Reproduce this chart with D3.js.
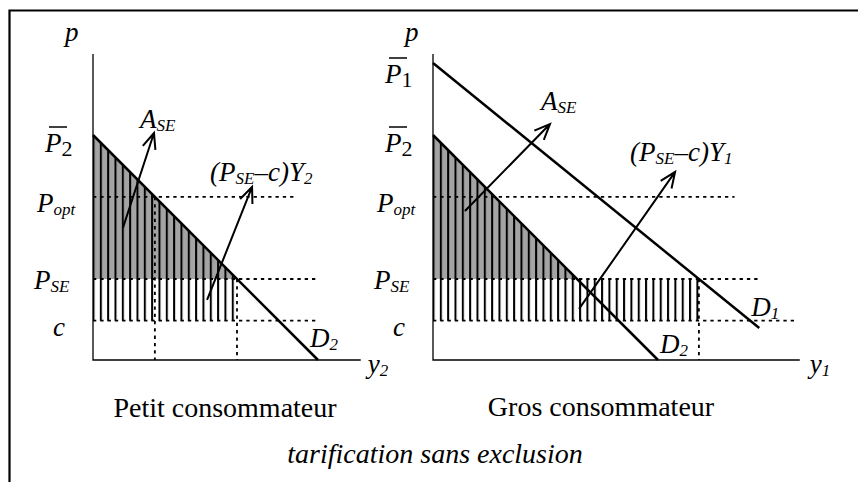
<!DOCTYPE html>
<html>
<head>
<meta charset="utf-8">
<script src="https://cdn.jsdelivr.net/npm/d3@7"></script>
<style>
  body { margin: 0; background: #fff; }
  text { font-family: "Liberation Serif", "Times New Roman", serif; font-size: 27px; fill: #000; }
</style>
</head>
<body>
<svg id="chart" width="858" height="482"></svg>
<script>
// Price levels (same units on both panels)
const levelKeys = ["pbar2", "popt", "pse", "c"];
const levelPrices = [10, 7.25, 3.6, 1.75];
const pbar1 = 13.2;

// Demand curves: D2 hits the quantity axis at 10, D1 at 16.25 (drawn up to 14.5)
const d2Choke = 10;
const d1Choke = 16.25;
const d1DrawTo = 14.5;

// Axis extents
const pAxisTop = 13.6;
const qAxisLeft = 11.9;
const qAxisRight = 16.3;

// Where the dotted price lines stop (popt, pse, c)
const dottedEndsLeft = [9.05, 10, 10];
const dottedEndsRight = [13.4, 14.5, 16.2];

// Annotation arrows [q0, p0, q1, p1]
const arrowsLeft = [[1.33, 5.87, 2.71, 10.09], [5.07, 2.67, 7.07, 7.69]];
const arrowsRight = [[1.42, 6.62, 5.2, 10.49], [6.49, 2.27, 10.76, 8.36]];

// Texts
const panelTitles = ["Petit consommateur", "Gros consommateur"];
const figureTitle = "tarification sans exclusion";

const svg = d3.select("#chart");
const gray = "#a4a4a4";

const pbar2 = levelPrices[0], popt = levelPrices[1], pse = levelPrices[2], cost = levelPrices[3];
const qOpt2 = d2Choke * (1 - popt / pbar2);
const qSE2 = d2Choke * (1 - pse / pbar2);
const qSE1 = d1Choke * (1 - pse / pbar1);

const yScale = d3.scaleLinear().domain([0, 10]).range([360, 135]);
const xLeft = d3.scaleLinear().domain([0, 10]).range([93, 318]);
const xRight = d3.scaleLinear().domain([0, 10]).range([433, 658]);

// frame (top and left only)
svg.append("path")
  .attr("d", "M9.5,482V10.5H858")
  .attr("fill", "none")
  .attr("stroke", "#000")
  .attr("stroke-width", 2.2);

const defs = svg.append("defs");
function stripes(id, x0) {
  const p = defs.append("pattern")
    .attr("id", id)
    .attr("patternUnits", "userSpaceOnUse")
    .attr("x", x0 - 0.5)
    .attr("y", 0)
    .attr("width", 7.33)
    .attr("height", 10);
  p.append("rect").attr("x", 0).attr("y", 0).attr("width", 2).attr("height", 10).attr("fill", "#000");
}
stripes("hatchL", xLeft(0));
stripes("hatchR", xRight(0));

// math-like label: parts = [{t, sub, up}]
function mathText(g, x, y, parts, italic = true) {
  const t = g.append("text").attr("x", x).attr("y", y)
    .style("font-style", italic ? "italic" : "normal");
  let down = 0;
  parts.forEach(part => {
    const s = t.append("tspan").text(part.t);
    if (part.sub) {
      const shift = part.up ? 4 : 3;
      s.attr("dy", shift - down).style("font-size", part.up ? "22px" : "17px");
      down = shift;
      if (part.up) s.style("font-style", "normal");
    } else {
      s.attr("dy", -down);
      down = 0;
    }
  });
  return t;
}

function pbarLabel(g, x, y, digit) {
  mathText(g, x, y, [{ t: "P" }, { t: digit, sub: true, up: true }]);
  g.append("line")
    .attr("x1", x + 4).attr("x2", x + 22)
    .attr("y1", y - 25).attr("y2", y - 25)
    .attr("stroke", "#000").attr("stroke-width", 1.5);
}

function arrow(g, xs, a) {
  const x1 = xs(a[0]), y1 = yScale(a[1]), x2 = xs(a[2]), y2 = yScale(a[3]);
  const ang = Math.atan2(y2 - y1, x2 - x1);
  const len = 17, spread = 0.4;
  const hx1 = x2 - len * Math.cos(ang - spread), hy1 = y2 - len * Math.sin(ang - spread);
  const hx2 = x2 - len * Math.cos(ang + spread), hy2 = y2 - len * Math.sin(ang + spread);
  g.append("path")
    .attr("d", `M${x1},${y1}L${x2},${y2}M${hx1},${hy1}L${x2},${y2}L${hx2},${hy2}`)
    .attr("fill", "none")
    .attr("stroke", "#000")
    .attr("stroke-width", 2);
  return [x2, y2];
}

function drawPanel(xs, big) {
  const g = svg.append("g");
  const line = d3.line().x(d => xs(d[0])).y(d => yScale(d[1]));
  const qRect = big ? qSE1 : qSE2;

  // shaded triangle (gray) and hatched area
  g.append("path")
    .attr("d", line([[0, pbar2], [qSE2, pse], [0, pse]]) + "Z")
    .attr("fill", gray);
  g.append("path")
    .attr("d", line([[0, pbar2], [qSE2, pse], [qRect, pse], [qRect, cost], [0, cost]]) + "Z")
    .attr("fill", big ? "url(#hatchR)" : "url(#hatchL)");

  // dotted lines
  const ends = big ? dottedEndsRight : dottedEndsLeft;
  const dotted = [
    [[0, popt], [ends[0], popt]],
    [[0, pse], [ends[1], pse]],
    [[0, cost], [ends[2], cost]],
    [[qRect, pse], [qRect, 0]]
  ];
  if (!big) dotted.push([[qOpt2, popt], [qOpt2, 0]]);
  g.selectAll(".dot")
    .data(dotted)
    .enter()
    .append("path")
    .attr("d", d => line(d))
    .attr("fill", "none")
    .attr("stroke", "#000")
    .attr("stroke-width", 1.8)
    .attr("stroke-dasharray", "3.3,4");

  // axes
  const qAxis = big ? qAxisRight : qAxisLeft;
  g.append("path")
    .attr("d", line([[0, pAxisTop], [0, 0], [qAxis, 0]]))
    .attr("fill", "none")
    .attr("stroke", "#000")
    .attr("stroke-width", 1.3);

  // demand curves
  g.append("path")
    .attr("d", line([[0, pbar2], [d2Choke, 0]]))
    .attr("stroke", "#000").attr("stroke-width", 2.5);
  if (big) {
    g.append("path")
      .attr("d", line([[0, pbar1], [d1DrawTo, pbar1 * (1 - d1DrawTo / d1Choke)]]))
      .attr("stroke", "#000").attr("stroke-width", 2.5);
  }

  // arrows and their labels
  const arrows = big ? arrowsRight : arrowsLeft;
  const tipA = arrow(g, xs, arrows[0]);
  const tipB = arrow(g, xs, arrows[1]);
  if (big) {
    mathText(g, tipA[0] - 9, tipA[1] - 14, [{ t: "A" }, { t: "SE", sub: true }]);
    mathText(g, tipB[0] - 45, tipB[1] - 11, [{ t: "(P" }, { t: "SE", sub: true }, { t: "–c)Y" }, { t: "1", sub: true }]);
  } else {
    mathText(g, tipA[0] - 14, tipA[1] - 5, [{ t: "A" }, { t: "SE", sub: true }]);
    mathText(g, tipB[0] - 42, tipB[1] - 6, [{ t: "(P" }, { t: "SE", sub: true }, { t: "–c)Y" }, { t: "2", sub: true }]);
  }

  // price-axis labels
  const x0 = xs(0);
  mathText(g, x0 - 28, 41, [{ t: "p" }]);
  if (big) pbarLabel(g, x0 - 48, yScale(pbar1) + 20, "1");
  pbarLabel(g, x0 - 48, yScale(pbar2) + 17, "2");
  mathText(g, x0 - 56, yScale(popt) + 15, [{ t: "P" }, { t: "opt", sub: true }]);
  mathText(g, x0 - 59, yScale(pse) + 10, [{ t: "P" }, { t: "SE", sub: true }]);
  mathText(g, x0 - 40, yScale(cost) + 15, [{ t: "c" }]);

  // quantity-axis label
  mathText(g, xs(qAxis) + (big ? 10 : 7), 373, [{ t: "y" }, { t: big ? "1" : "2", sub: true }]);

  // demand labels
  if (big) {
    mathText(g, xs(d2Choke) + 2, yScale(0) - 7, [{ t: "D" }, { t: "2", sub: true }]);
    mathText(g, xs(d1DrawTo) - 8, yScale(pbar1 * (1 - d1DrawTo / d1Choke)) - 12, [{ t: "D" }, { t: "1", sub: true }]);
  } else {
    mathText(g, xs(d2Choke) - 8, yScale(0) - 13, [{ t: "D" }, { t: "2", sub: true }]);
  }
}

drawPanel(xLeft, false);
drawPanel(xRight, true);

// titles
svg.append("text")
  .attr("x", 225).attr("y", 417)
  .attr("text-anchor", "middle")
  .style("font-size", "28px")
  .text(panelTitles[0]);
svg.append("text")
  .attr("x", 601).attr("y", 416)
  .attr("text-anchor", "middle")
  .style("font-size", "28px")
  .text(panelTitles[1]);
svg.append("text")
  .attr("x", 435).attr("y", 463)
  .attr("text-anchor", "middle")
  .style("font-size", "28px")
  .style("font-style", "italic")
  .text(figureTitle);
</script>
</body>
</html>
